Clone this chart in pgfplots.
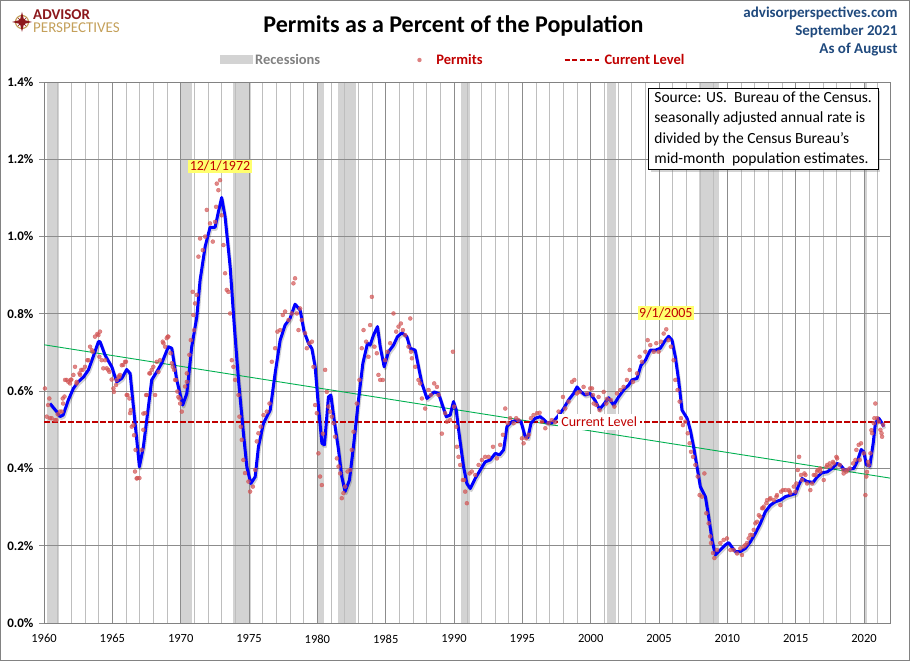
\documentclass[border=0pt]{standalone}
\usepackage{fontspec}
\setmainfont{Carlito}
\usepackage{pgfplots}
\pgfplotsset{compat=1.18}
\usetikzlibrary{shadows}
\definecolor{recgray}{RGB}{211,211,211}
\definecolor{darkred}{RGB}{192,0,0}
\definecolor{navy}{RGB}{31,73,125}
\definecolor{permit}{RGB}{210,85,85}
\definecolor{trend}{RGB}{0,176,80}
\definecolor{apred}{RGB}{140,24,28}
\definecolor{apgold}{RGB}{196,160,90}
\definecolor{majgrid}{RGB}{140,140,140}
\definecolor{mingrid}{RGB}{190,190,190}
\definecolor{frame}{RGB}{130,130,130}
\definecolor{hilite}{RGB}{255,255,110}

\pgfplotstableread{
x y
1960.07 0.607
1960.20 0.534
1960.39 0.581
1960.56 0.530
1960.90 0.525
1961.00 0.540
1961.30 0.547
1961.40 0.568
1961.50 0.586
1961.66 0.629
1961.90 0.620
1962.00 0.630
1962.27 0.663
1962.38 0.620
1962.60 0.646
1962.72 0.655
1963.00 0.663
1963.25 0.680
1963.50 0.706
1963.73 0.741
1963.98 0.745
1964.10 0.754
1964.22 0.680
1964.47 0.680
1964.70 0.655
1964.95 0.630
1965.08 0.607
1965.27 0.616
1965.45 0.638
1965.56 0.642
1965.80 0.668
1965.93 0.676
1966.05 0.590
1966.30 0.543
1966.42 0.508
1966.70 0.448
1966.66 0.392
1966.83 0.375
1966.98 0.375
1967.15 0.448
1967.27 0.500
1967.40 0.543
1967.52 0.590
1967.71 0.646
1967.88 0.655
1968.00 0.663
1968.25 0.676
1968.49 0.680
1968.74 0.724
1968.98 0.737
1969.10 0.741
1969.35 0.672
1969.52 0.655
1969.66 0.629
1969.76 0.599
1969.91 0.581
1970.08 0.547
1970.32 0.612
1970.45 0.646
1970.64 0.694
1970.74 0.732
1970.88 0.857
1970.93 0.797
1971.05 0.827
1971.18 0.849
1971.30 0.948
1971.42 0.995
1971.62 0.965
1971.79 1.000
1971.91 1.069
1972.15 1.034
1972.35 0.987
1972.52 1.038
1972.59 1.077
1972.64 1.137
1972.76 1.120
1972.88 1.146
1973.00 1.055
1973.13 0.978
1973.25 0.905
1973.37 0.862
1973.49 0.857
1973.62 0.801
1973.74 0.680
1973.86 0.663
1973.98 0.629
1974.23 0.590
1974.30 0.534
1974.40 0.508
1974.47 0.474
1974.59 0.422
1974.71 0.388
1974.96 0.366
1975.08 0.340
1975.28 0.353
1975.45 0.396
1975.57 0.470
1975.69 0.491
1975.86 0.508
1976.06 0.538
1976.30 0.547
1976.50 0.568
1976.67 0.676
1976.91 0.711
1977.08 0.754
1977.28 0.758
1977.47 0.797
1977.64 0.806
1977.89 0.784
1978.13 0.801
1978.25 0.879
1978.37 0.892
1978.50 0.801
1978.62 0.758
1978.74 0.814
1978.86 0.784
1979.10 0.750
1979.23 0.711
1979.42 0.724
1979.60 0.728
1979.72 0.663
1979.84 0.564
1979.96 0.543
1980.08 0.439
1980.20 0.379
1980.33 0.357
1980.40 0.490
1980.57 0.655
1980.69 0.598
1980.81 0.560
1980.93 0.547
1981.06 0.534
1981.18 0.517
1981.30 0.482
1981.43 0.426
1981.55 0.405
1981.67 0.387
1981.79 0.323
1981.91 0.336
1982.03 0.353
1982.21 0.392
1982.40 0.396
1982.52 0.448
1982.65 0.495
1982.89 0.568
1983.08 0.629
1983.25 0.711
1983.38 0.758
1983.57 0.728
1983.74 0.689
1983.86 0.771
1983.99 0.844
1984.18 0.715
1984.35 0.698
1984.47 0.642
1984.60 0.629
1984.79 0.629
1984.96 0.680
1985.13 0.702
1985.33 0.724
1985.57 0.801
1985.77 0.754
1985.94 0.767
1986.11 0.775
1986.26 0.758
1986.43 0.745
1986.67 0.715
1986.80 0.788
1986.85 0.702
1986.92 0.685
1987.16 0.663
1987.40 0.629
1987.52 0.620
1987.65 0.581
1987.89 0.555
1988.14 0.603
1988.30 0.590
1988.55 0.620
1988.75 0.611
1988.87 0.590
1989.11 0.490
1989.35 0.543
1989.48 0.521
1989.72 0.525
1989.92 0.702
1990.01 0.560
1990.16 0.508
1990.21 0.456
1990.33 0.430
1990.45 0.409
1990.65 0.370
1990.74 0.370
1990.82 0.340
1990.94 0.310
1991.14 0.387
1991.30 0.392
1991.55 0.383
1991.80 0.409
1992.04 0.422
1992.28 0.430
1992.53 0.430
1992.85 0.456
1993.14 0.426
1993.38 0.461
1993.58 0.487
1993.75 0.555
1993.92 0.517
1994.11 0.530
1994.36 0.517
1994.55 0.530
1994.72 0.525
1994.97 0.478
1995.09 0.465
1995.28 0.478
1995.46 0.487
1995.63 0.530
1995.82 0.538
1996.07 0.543
1996.26 0.544
1996.43 0.521
1996.68 0.504
1996.92 0.517
1997.16 0.525
1997.40 0.520
1997.65 0.547
1997.97 0.585
1998.14 0.555
1998.38 0.573
1998.63 0.624
1998.80 0.629
1998.99 0.594
1999.19 0.598
1999.48 0.611
1999.73 0.594
1999.97 0.607
2000.10 0.607
2000.17 0.590
2000.22 0.568
2000.41 0.564
2000.58 0.585
2000.65 0.551
2000.95 0.598
2001.14 0.568
2001.19 0.580
2001.48 0.577
2001.73 0.560
2001.92 0.594
2002.17 0.603
2002.41 0.611
2002.65 0.629
2002.85 0.655
2003.09 0.624
2003.39 0.646
2003.58 0.689
2003.75 0.676
2004.00 0.702
2004.17 0.732
2004.36 0.719
2004.61 0.702
2004.80 0.724
2004.97 0.702
2005.14 0.728
2005.34 0.749
2005.53 0.760
2005.70 0.732
2005.87 0.715
2006.07 0.680
2006.19 0.629
2006.36 0.603
2006.51 0.573
2006.61 0.530
2006.75 0.512
2006.92 0.521
2007.10 0.491
2007.24 0.465
2007.34 0.443
2007.49 0.430
2007.66 0.409
2007.83 0.379
2007.97 0.331
2008.14 0.327
2008.32 0.387
2008.46 0.284
2008.63 0.258
2008.75 0.224
2008.80 0.207
2008.95 0.181
2009.05 0.168
2009.24 0.189
2009.49 0.207
2009.73 0.215
2009.97 0.219
2010.22 0.189
2010.46 0.189
2010.71 0.180
2010.95 0.193
2011.20 0.198
2011.44 0.207
2011.68 0.228
2011.93 0.241
2012.17 0.262
2012.41 0.275
2012.61 0.297
2012.85 0.310
2013.10 0.320
2013.39 0.318
2013.63 0.331
2013.93 0.340
2014.25 0.344
2014.56 0.340
2014.86 0.353
2015.05 0.361
2015.25 0.430
2015.39 0.383
2015.64 0.387
2015.83 0.361
2016.07 0.344
2016.32 0.383
2016.56 0.392
2016.81 0.392
2017.05 0.370
2017.30 0.409
2017.54 0.405
2017.78 0.413
2017.98 0.430
2018.22 0.409
2018.47 0.396
2018.71 0.392
2018.95 0.400
2019.20 0.413
2019.37 0.422
2019.61 0.461
2019.78 0.465
2019.98 0.439
2020.10 0.331
2020.17 0.379
2020.34 0.409
2020.47 0.439
2020.59 0.491
2020.71 0.517
2020.83 0.568
2020.96 0.530
2021.08 0.521
2021.20 0.500
2021.32 0.482
2021.40 0.513
1960.30 0.564
1960.44 0.530
1960.80 0.525
1961.17 0.547
1961.37 0.581
1961.54 0.629
1961.78 0.624
1961.95 0.629
1962.15 0.642
1962.39 0.624
1962.64 0.642
1962.83 0.655
1963.17 0.680
1963.37 0.715
1963.56 0.702
1963.90 0.748
1964.05 0.689
1964.34 0.659
1964.59 0.659
1964.78 0.650
1965.12 0.598
1965.32 0.629
1965.51 0.637
1965.69 0.667
1966.00 0.676
1966.10 0.590
1966.25 0.581
1966.35 0.551
1966.54 0.512
1966.59 0.486
1966.78 0.374
1967.27 0.542
1967.47 0.590
1967.76 0.646
1968.13 0.590
1968.37 0.650
1968.69 0.728
1968.86 0.715
1969.05 0.741
1969.27 0.698
1969.42 0.663
1969.59 0.629
1969.83 0.585
1969.96 0.568
1970.45 0.624
1970.98 0.758
2011.07 0.176
2011.32 0.202
2011.56 0.219
2011.81 0.228
2012.05 0.258
2012.30 0.279
2012.54 0.297
2012.66 0.301
2012.90 0.318
2013.15 0.323
2013.59 0.327
2013.88 0.305
2014.07 0.344
2014.49 0.344
2014.61 0.336
2014.98 0.340
2015.15 0.396
2015.47 0.370
2015.71 0.383
2016.20 0.361
2016.44 0.383
2016.61 0.396
2016.80 0.400
2017.25 0.404
2017.49 0.413
2017.73 0.417
2018.03 0.426
2018.51 0.387
2018.76 0.396
2019.44 0.448
2019.69 0.422
2020.22 0.391
2020.30 0.417
2020.54 0.499
2020.76 0.530
2021.28 0.491
}\permits

\pgfplotstableread{
x y
1960.44 0.568
1960.93 0.547
1961.17 0.534
1961.40 0.538
1961.78 0.577
1962.15 0.607
1962.50 0.624
1962.90 0.637
1963.25 0.655
1963.60 0.689
1963.98 0.728
1964.10 0.728
1964.47 0.693
1964.96 0.663
1965.32 0.624
1965.69 0.633
1966.05 0.656
1966.30 0.646
1966.54 0.560
1966.79 0.473
1966.98 0.404
1967.27 0.456
1967.64 0.560
1967.88 0.629
1968.25 0.650
1968.61 0.672
1969.10 0.715
1969.35 0.711
1969.71 0.629
1970.15 0.564
1970.45 0.594
1970.81 0.715
1971.18 0.792
1971.42 0.887
1971.79 0.974
1972.15 1.024
1972.52 1.024
1972.76 1.064
1973.00 1.101
1973.25 1.051
1973.62 0.922
1973.91 0.775
1974.23 0.629
1974.59 0.491
1974.84 0.404
1975.13 0.361
1975.45 0.378
1975.69 0.456
1976.06 0.517
1976.55 0.551
1976.91 0.646
1977.28 0.732
1977.64 0.771
1978.00 0.788
1978.37 0.825
1978.74 0.810
1979.03 0.754
1979.35 0.724
1979.60 0.710
1979.84 0.663
1980.08 0.560
1980.33 0.465
1980.52 0.461
1980.81 0.585
1980.99 0.590
1981.23 0.525
1981.55 0.448
1981.79 0.378
1982.03 0.340
1982.35 0.370
1982.64 0.456
1983.01 0.577
1983.33 0.672
1983.67 0.724
1983.86 0.719
1984.11 0.745
1984.40 0.767
1984.60 0.715
1984.89 0.663
1985.21 0.702
1985.57 0.719
1985.86 0.741
1986.19 0.751
1986.55 0.741
1986.79 0.711
1987.16 0.706
1987.40 0.663
1987.65 0.620
1988.02 0.581
1988.31 0.590
1988.55 0.598
1988.87 0.594
1989.11 0.568
1989.43 0.534
1989.72 0.538
1989.96 0.573
1990.16 0.551
1990.40 0.482
1990.70 0.404
1990.94 0.361
1991.19 0.348
1991.55 0.374
1991.92 0.396
1992.28 0.417
1992.65 0.422
1993.02 0.439
1993.33 0.435
1993.63 0.448
1993.87 0.508
1994.24 0.521
1994.60 0.525
1994.90 0.521
1995.21 0.482
1995.41 0.480
1995.63 0.517
1995.94 0.530
1996.31 0.534
1996.55 0.527
1996.80 0.518
1997.17 0.518
1997.60 0.535
1998.02 0.555
1998.38 0.577
1998.75 0.594
1999.00 0.611
1999.29 0.598
1999.60 0.590
1999.97 0.594
2000.34 0.575
2000.65 0.553
2000.95 0.566
2001.31 0.583
2001.68 0.564
2002.04 0.585
2002.41 0.603
2002.78 0.616
2003.02 0.629
2003.39 0.633
2003.68 0.667
2004.00 0.680
2004.36 0.706
2004.73 0.706
2005.10 0.711
2005.39 0.728
2005.70 0.742
2005.95 0.732
2006.19 0.689
2006.43 0.629
2006.68 0.551
2007.05 0.530
2007.29 0.499
2007.53 0.456
2007.78 0.404
2008.02 0.353
2008.39 0.327
2008.63 0.275
2008.88 0.215
2009.12 0.176
2009.49 0.189
2009.85 0.202
2010.10 0.208
2010.34 0.196
2010.59 0.185
2010.95 0.185
2011.32 0.193
2011.68 0.210
2012.05 0.232
2012.42 0.258
2012.78 0.288
2013.15 0.305
2013.52 0.314
2013.88 0.318
2014.25 0.327
2014.62 0.331
2014.99 0.335
2015.22 0.357
2015.47 0.374
2015.83 0.366
2016.27 0.364
2016.57 0.378
2016.93 0.389
2017.30 0.391
2017.66 0.400
2018.03 0.413
2018.27 0.409
2018.57 0.396
2018.88 0.398
2019.25 0.400
2019.49 0.417
2019.79 0.449
2019.98 0.443
2020.17 0.409
2020.42 0.406
2020.67 0.465
2020.83 0.517
2021.08 0.530
2021.25 0.521
2021.45 0.508
}\smooth

\begin{document}
\begin{tikzpicture}

\begin{axis}[
  set layers,
  at={(44pt,38pt)}, anchor=south west,
  scale only axis, width=846pt, height=541pt,
  xmin=1960, xmax=2021.9, ymin=0, ymax=1.4,
  xtick={1960,1965,...,2020},
  minor xtick={1961,...,2021},
  ytick={0,0.2,0.4,0.6,0.8,1.0,1.2,1.4},
  xmajorgrids, xminorgrids, ymajorgrids,
  major grid style={majgrid, line width=0.8pt},
  minor grid style={mingrid, line width=0.8pt},
  axis line style={frame, line width=0.8pt},
  tick pos=left, tick align=outside,
  major tick length=5pt, minor tick length=0pt,
  xtick style={draw=none},
  ytick style={majgrid, line width=0.8pt},
  /pgf/number format/assume math mode=true,
  /pgf/number format/1000 sep={},
  scaled x ticks=false, scaled y ticks=false,
  yticklabel={\pgfmathprintnumber[fixed,fixed zerofill,precision=1]{\tick}\%},
  yticklabel style={font=\fontsize{13}{13}\selectfont\bfseries, xshift=-2pt},
  xticklabel style={font=\fontsize{12.5}{12.5}\selectfont, yshift=-3pt},
  legend style={at={(0.208,1.0407)}, anchor=west, draw=none, fill=none,
    legend columns=-1, inner sep=0pt,
    font=\fontsize{14.5}{14.5}\selectfont\bfseries,
    /tikz/every even column/.append style={column sep=79pt}},
  recband/.style={fill=recgray, draw=none, on layer=axis background, forget plot},
]
% legend images
\addlegendimage{legend image code/.code={\fill[recgray, draw=none] (0pt,-4.5pt) rectangle (33pt,4.5pt);}}
\addlegendentry{\textcolor{gray}{Recessions}\rule{16pt}{0pt}}
\addlegendimage{legend image code/.code={\fill[permit, draw=none, opacity=0.75] (2pt,0pt) circle (2.2pt); \path[draw=none, fill=none] (0pt,0pt) -- (17pt,0pt);}}
\addlegendentry{\textcolor{darkred}{Permits}}
\addlegendimage{legend image code/.code={\draw[darkred, line width=2pt, dash pattern=on 5pt off 2.5pt] (0pt,0pt) -- (34pt,0pt); \path[draw=none, fill=none] (34pt,0pt) -- (38pt,0pt);}}
\addlegendentry{\textcolor{darkred}{Current Level}}

% recessions
\addplot[recband] coordinates {(1960.25,1.4)(1961.08,1.4)} \closedcycle;
\addplot[recband] coordinates {(1969.92,1.4)(1970.83,1.4)} \closedcycle;
\addplot[recband] coordinates {(1973.83,1.4)(1975.17,1.4)} \closedcycle;
\addplot[recband] coordinates {(1980.00,1.4)(1980.50,1.4)} \closedcycle;
\addplot[recband] coordinates {(1981.50,1.4)(1982.83,1.4)} \closedcycle;
\addplot[recband] coordinates {(1990.50,1.4)(1991.17,1.4)} \closedcycle;
\addplot[recband] coordinates {(2001.17,1.4)(2001.83,1.4)} \closedcycle;
\addplot[recband] coordinates {(2007.92,1.4)(2009.42,1.4)} \closedcycle;
\addplot[recband] coordinates {(2019.98,1.4)(2020.25,1.4)} \closedcycle;

% permits scatter
\addplot[permit, only marks, mark=*, mark size=2pt, opacity=0.7,
  mark options={draw=none, fill=permit}, forget plot] table[x=x,y=y] {\permits};

% trend
\addplot[trend, line width=0.9pt, forget plot] coordinates {(1960,0.72) (2021.9,0.375)};
% current level
\addplot[darkred, line width=2pt, dash pattern=on 5.5pt off 2.5pt, forget plot] coordinates {(1960,0.52) (2021.9,0.52)};
% smoothed line shadow and line
\addplot[black, opacity=0.18, line width=3pt, line join=round, xshift=1pt, yshift=-2pt, forget plot] table[x=x,y=y] {\smooth};
\addplot[blue, line width=3pt, line join=round, forget plot] table[x=x,y=y] {\smooth};

\node[fill=white, text=darkred, font=\fontsize{14}{14}\selectfont, anchor=west,
  inner xsep=3pt, inner ysep=3.5pt] at (axis cs:1997.62,0.52) {Current Level};
\node[fill=hilite, text=darkred, font=\fontsize{14}{14}\selectfont, inner sep=1.5pt]
  at (axis cs:1972.88,1.182) {12/1/1972};
\node[fill=hilite, text=darkred, font=\fontsize{14}{14}\selectfont, inner sep=1.5pt]
  at (axis cs:2005.5,0.802) {9/1/2005};
\end{axis}

% source box
\node[draw=black, fill=white, line width=0.8pt,
  drop shadow={shadow xshift=2.5pt, shadow yshift=-2.5pt, opacity=0.35},
  anchor=north west, inner xsep=6pt, inner ysep=3pt, align=left,
  font=\fontsize{15.5}{20.5}\selectfont] at (648pt,573pt)
  {Source: US.\ \ Bureau of the Census.\\seasonally adjusted annual rate is\\divided by the Census Bureau's\\mid-month\ \ population estimates.};

% title
\node[anchor=base, font=\fontsize{24}{24}\selectfont\bfseries] at (453.5pt,628pt)
  {Permits as a Percent of the Population};

% top right
\node[anchor=base east, text=navy, font=\fontsize{15}{15}\selectfont\bfseries] at (901pt,643pt) {advisorperspectives.com};
\node[anchor=base east, text=navy, font=\fontsize{15}{15}\selectfont\bfseries] at (901pt,625pt) {September 2021};
\node[anchor=base east, text=navy, font=\fontsize{15}{15}\selectfont\bfseries] at (901pt,607pt) {As of August};

% logo
\begin{scope}[shift={(22pt,639pt)}]
  \draw[apgold, line width=1.2pt] (0,0) circle (6.5pt);
  \fill[apred] (0,10pt) -- (2pt,2pt) -- (10pt,0) -- (2pt,-2pt) -- (0,-10pt) -- (-2pt,-2pt) -- (-10pt,0) -- (-2pt,2pt) -- cycle;
  \fill[apred] (4.5pt,4.5pt) -- (1pt,-0.5pt) -- (-4.5pt,-4.5pt) -- (-1pt,0.5pt) -- cycle;
  \fill[apred] (-4.5pt,4.5pt) -- (0.5pt,1pt) -- (4.5pt,-4.5pt) -- (-0.5pt,-1pt) -- cycle;
\end{scope}
\node[anchor=base west, inner sep=0pt, align=left, font=\fontsize{15}{12.5}\selectfont] at (33pt,628.5pt)
  {\textcolor{apred}{\bfseries ADVISOR}\\\textcolor{apgold}{PERSPECTIVES}};

% outer frame
\draw[frame, line width=1pt] (0.5pt,0.5pt) rectangle (909.5pt,660.5pt);
\pgfresetboundingbox
\path[use as bounding box] (0pt,0pt) rectangle (910pt,661pt);
\end{tikzpicture}
\end{document}
